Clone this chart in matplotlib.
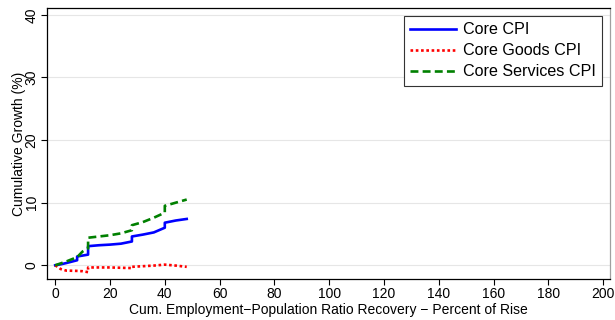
import matplotlib
matplotlib.use("Agg")
import matplotlib.pyplot as plt

# cumulative employment-population ratio recovery (% of rise)
recovery = [0, 2, 4, 8, 8, 10, 12, 12, 16, 20, 24, 28, 28, 32, 36, 40, 40, 44, 48]

# cumulative growth (%)
core_cpi = [0, 0.15, 0.35, 0.8, 1.4, 1.55, 1.7, 3.05, 3.2, 3.3, 3.45, 3.8, 4.6,
            4.9, 5.25, 6.0, 6.8, 7.15, 7.4]
core_goods = [0, -0.6, -0.85, -0.9, -0.9, -0.95, -1.1, -0.35, -0.35, -0.35,
              -0.4, -0.45, -0.25, -0.15, -0.05, 0.1, 0.1, -0.05, -0.25]
core_services = [0, 0.3, 0.6, 1.3, 1.3, 2.2, 2.7, 4.4, 4.6, 4.8, 5.1, 5.6, 6.4,
                 6.9, 7.6, 8.4, 9.5, 10.0, 10.5]

xticks = list(range(0, 201, 20))
yticks = [0, 10, 20, 30, 40]

plt.rcParams['font.family'] = ['Liberation Sans', 'DejaVu Sans']
plt.rcParams['font.size'] = 10

fig = plt.figure(figsize=(6.15, 3.2), dpi=100)
ax = fig.add_axes([0.0764, 0.128, 0.9155, 0.847])

ax.plot(recovery, core_cpi, color='#0000ff', lw=1.9, label='Core CPI')
ax.plot(recovery, core_goods, color='#ff0000', lw=1.9, ls=(0, (1, 1)),
        label='Core Goods CPI')
ax.plot(recovery, core_services, color='#008000', lw=1.9, ls=(0, (3, 1.6)),
        label='Core Services CPI')

ax.set_xlim(-3, 202.5)
ax.set_ylim(-2.2, 41.1)
ax.set_xticks(xticks)
ax.set_yticks(yticks)
ax.tick_params(axis='y', labelrotation=90, length=4, width=0.8, pad=2)
ax.tick_params(axis='x', length=4, width=0.8, pad=2)
for lab in ax.get_yticklabels():
    lab.set_va('center')

ax.grid(axis='y', color='#e6e6e6', lw=0.8)
ax.set_axisbelow(True)

for side in ['left', 'bottom', 'top']:
    ax.spines[side].set_color('black')
    ax.spines[side].set_linewidth(0.9)
ax.spines['right'].set_color('#a0a0a0')
ax.spines['right'].set_linewidth(0.9)

ax.set_xlabel('Cum. Employment\u2212Population Ratio Recovery \u2212 Percent of Rise',
              labelpad=1)
ax.set_ylabel('Cumulative Growth (%)', labelpad=-1)

leg = ax.legend(loc='upper right', bbox_to_anchor=(0.9865, 0.97), frameon=True,
                fancybox=False, edgecolor='#333333', framealpha=1,
                fontsize=11.6, handlelength=2.85, handletextpad=0.45,
                borderpad=0.38, labelspacing=0.38, borderaxespad=0)
leg.get_frame().set_linewidth(0.8)

fig.savefig('out.png', dpi=100)
